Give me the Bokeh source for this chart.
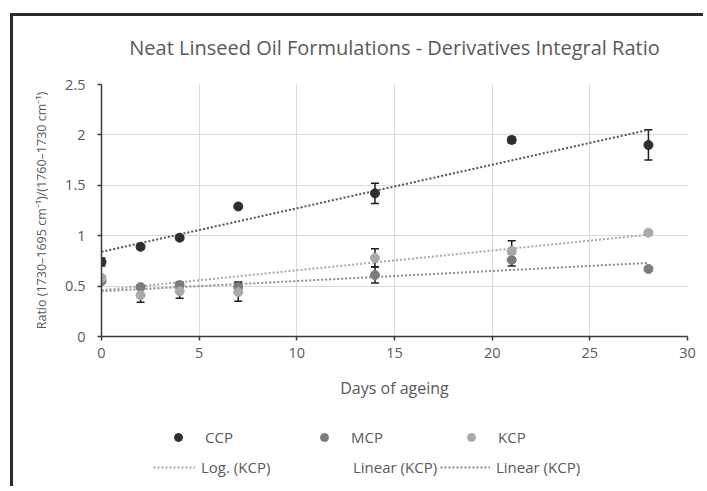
from bokeh.plotting import figure
from bokeh.models import (Range1d, FixedTicker, Whisker, TeeHead, ColumnDataSource,
                          Legend, LegendItem, Div, Spacer, Title)
from bokeh.layouts import row, column
from bokeh.embed import file_html
from bokeh.resources import INLINE

title_text = "Neat Linseed Oil Formulations - Derivatives Integral Ratio"
x_label = "Days of ageing"
y_label = "Ratio (1730\u20131695 cm\u207b\u00b9)/(1760\u20131730 cm\u207b\u00b9)"

days = [0, 2, 4, 7, 14, 21, 28]
ccp = [0.74, 0.89, 0.98, 1.29, 1.42, 1.95, 1.90]
ccp_err = [0.04, 0.02, 0.02, 0.02, 0.10, 0.03, 0.15]
mcp = [0.55, 0.49, 0.51, 0.49, 0.61, 0.76, 0.67]
mcp_err = [0.02, 0.02, 0.03, 0.05, 0.08, 0.06, 0.02]
kcp = [0.58, 0.41, 0.45, 0.44, 0.78, 0.85, 1.03]
kcp_err = [0.02, 0.07, 0.07, 0.09, 0.09, 0.10, 0.02]

trend_days = [0, 28]
ccp_trend = [0.84, 2.05]
kcp_trend = [0.46, 1.01]
mcp_trend = [0.45, 0.73]

x_ticks = [0, 5, 10, 15, 20, 25, 30]
y_ticks = [0, 0.5, 1, 1.5, 2, 2.5]
y_tick_labels = ["0", "0.5", "1", "1.5", "2", "2.5"]

legend_labels = ["CCP", "MCP", "KCP", "Log. (KCP)", "Linear (KCP)", "Linear (KCP)"]

FONT = "Open Sans"
TXT = "#595959"
FRAME = "#2b2b2b"
C_CCP, C_MCP, C_KCP = "#2e2e2e", "#7c7c7c", "#a9a9a9"
T_CCP, T_KCP, T_MCP = "#4e5266", "#a8a8b0", "#8c8c94"

p = figure(width=690, height=400, output_backend="svg", toolbar_location=None,
           x_range=Range1d(0, 30), y_range=Range1d(0, 2.5),
           min_border_left=88, min_border_right=16, min_border_top=68,
           min_border_bottom=80, background_fill_color="white",
           border_fill_color="white", outline_line_color=None)

p.title.visible = False
p.add_layout(Title(text=" ", text_font_size="16px", standoff=0), "above")
p.add_layout(Title(text=title_text, align="center", text_font=FONT,
                   text_font_size="20px", text_font_style="normal",
                   text_color=TXT), "above")

p.xaxis.ticker = FixedTicker(ticks=x_ticks)
p.yaxis.ticker = FixedTicker(ticks=y_ticks)
p.yaxis.major_label_overrides = {t: l for t, l in zip(y_ticks, y_tick_labels)}
for ax in (p.xaxis[0], p.yaxis[0]):
    ax.axis_line_color = "#3a3a3a"
    ax.axis_line_width = 1.5
    ax.major_tick_line_color = "#3a3a3a"
    ax.major_tick_line_width = 1.5
    ax.major_tick_out = 4
    ax.major_tick_in = 0
    ax.minor_tick_line_color = None
    ax.major_label_text_font = FONT
    ax.major_label_text_color = TXT
    ax.major_label_text_font_size = "14.5px"
    ax.axis_label_text_font = FONT
    ax.axis_label_text_font_style = "normal"
    ax.axis_label_text_color = TXT
p.xaxis.axis_label = x_label
p.xaxis.axis_label_text_font_size = "16px"
p.xaxis.major_label_standoff = 7
p.xaxis.axis_label_standoff = 16
p.yaxis.axis_label = y_label
p.yaxis.axis_label_text_font_size = "12.5px"
p.yaxis.major_label_standoff = 12
p.yaxis.axis_label_standoff = 12

p.xgrid.grid_line_color = "#d9d9d9"
p.ygrid.grid_line_color = "#d9d9d9"

# trendlines
p.line(trend_days, ccp_trend, line_color=T_CCP, line_width=2, line_dash="2 2")
p.line(trend_days, kcp_trend, line_color=T_KCP, line_width=2, line_dash="2 2")
p.line(trend_days, mcp_trend, line_color=T_MCP, line_width=2, line_dash="2 2")

# error bars
def add_err(vals, errs):
    src = ColumnDataSource(dict(x=days,
                                upper=[v + e for v, e in zip(vals, errs)],
                                lower=[v - e for v, e in zip(vals, errs)]))
    w = Whisker(source=src, base="x", upper="upper", lower="lower",
                line_color="#1e1e1e", line_width=1.5, level="underlay",
                upper_head=TeeHead(size=8, line_color="#1e1e1e", line_width=1.5),
                lower_head=TeeHead(size=8, line_color="#1e1e1e", line_width=1.5))
    p.add_layout(w)

add_err(ccp, ccp_err)
add_err(mcp, mcp_err)
add_err(kcp, kcp_err)

p.scatter(days, ccp, size=9, fill_color=C_CCP, line_color=C_CCP)
p.scatter(days, mcp, size=9, fill_color=C_MCP, line_color=C_MCP)
p.scatter(days, kcp, size=9, fill_color=C_KCP, line_color=C_KCP)

# legend in its own strip below the chart (its renderers lie outside its view)
lg = figure(width=690, height=70, output_backend="svg", toolbar_location=None,
            x_range=Range1d(100, 101), y_range=Range1d(100, 101),
            min_border=0, outline_line_color=None,
            background_fill_color="white", border_fill_color="white")
lg.axis.visible = False
lg.grid.visible = False
l_ccp = lg.scatter(days, ccp, size=9, fill_color=C_CCP, line_color=C_CCP)
l_mcp = lg.scatter(days, mcp, size=9, fill_color=C_MCP, line_color=C_MCP)
l_kcp = lg.scatter(days, kcp, size=9, fill_color=C_KCP, line_color=C_KCP)
l_log = lg.line(trend_days, kcp_trend, line_color=T_KCP, line_width=2, line_dash="2 2")
l_none = lg.line(trend_days, ccp_trend, line_alpha=0)
l_lin = lg.line(trend_days, mcp_trend, line_color=T_MCP, line_width=2, line_dash="2 2")

leg_renderers = [l_ccp, l_mcp, l_kcp, l_log, l_none, l_lin]
leg_pos = [(56, 39), (202, 39), (349, 39), (52, 9), (204, 9), (339, 9)]
leg_gw = [42, 42, 42, 42, 42, 50]
for lab, r, pos, gw in zip(legend_labels, leg_renderers, leg_pos, leg_gw):
    lg.add_layout(Legend(items=[LegendItem(label=lab, renderers=[r])],
                         location=pos, margin=0, padding=0, spacing=0,
                         glyph_width=gw, glyph_height=20, label_height=20,
                         label_standoff=6, border_line_color=None,
                         background_fill_alpha=0,
                         label_text_font=FONT, label_text_font_size="15px",
                         label_text_color=TXT))

top_bar = Div(text="", width=693, height=3, margin=0,
              styles={"background-color": FRAME})
left_bar = Div(text="", width=3, height=470, margin=0,
               styles={"background-color": FRAME})
layout = row(Spacer(width=10, height=5, margin=0),
             column(Spacer(width=5, height=13, margin=0), top_bar,
                    row(left_bar, column(p, lg, spacing=0), spacing=0),
                    spacing=0),
             spacing=0)

open("out.html", "w").write(file_html(layout, INLINE))
